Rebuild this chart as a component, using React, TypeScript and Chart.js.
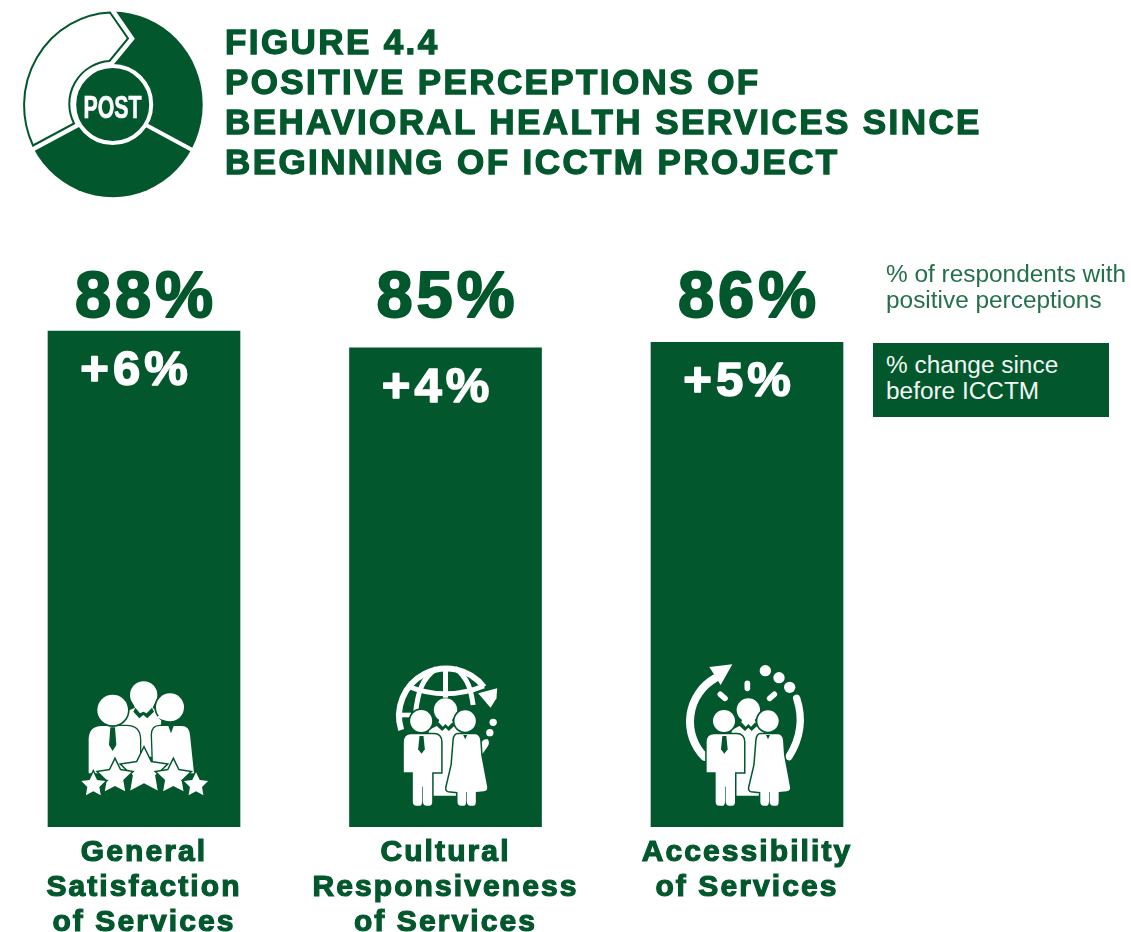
import React, { useEffect, useRef } from "react";
import { Chart, registerables } from "chart.js";

Chart.register(...registerables);

const categories: string[][] = [
  ["General", "Satisfaction", "of Services"],
  ["Cultural", "Responsiveness", "of Services"],
  ["Accessibility", "of Services"],
];
const positiveShare: number[] = [88, 85, 86];
const changeSinceBefore: string[] = ["+6%", "+4%", "+5%"];
const titleLines: string[] = [
  "FIGURE 4.4",
  "POSITIVE PERCEPTIONS OF",
  "BEHAVIORAL HEALTH SERVICES SINCE",
  "BEGINNING OF ICCTM PROJECT",
];
const legendShare: string[] = ["% of respondents with", "positive perceptions"];
const legendChange: string[] = ["% change since", "before ICCTM"];

const GREEN = "#02582C";
const WHITE = "#FFFFFF";
const HEAVY = '"Liberation Sans"';

type C = CanvasRenderingContext2D;

function circle(ctx: C, x: number, y: number, r: number) {
  ctx.beginPath();
  ctx.arc(x, y, r, 0, Math.PI * 2);
  ctx.fillStyle = WHITE;
  ctx.fill();
}
function shape(ctx: C, d: string, outline = 0) {
  const p = new Path2D(d);
  if (outline > 0) {
    ctx.strokeStyle = GREEN;
    ctx.lineWidth = outline;
    ctx.stroke(p);
  }
  ctx.fillStyle = WHITE;
  ctx.fill(p);
}
function dark(ctx: C, d: string) {
  ctx.fillStyle = GREEN;
  ctx.fill(new Path2D(d));
}
function ringed(ctx: C, x: number, y: number, r: number, w = 7) {
  ctx.beginPath();
  ctx.arc(x, y, r + w, 0, Math.PI * 2);
  ctx.fillStyle = GREEN;
  ctx.fill();
  circle(ctx, x, y, r);
}
function star(ctx: C, x: number, y: number, r: number) {
  const pts: string[] = [];
  for (let i = 0; i < 10; i++) {
    const a = -Math.PI / 2 + (i * Math.PI) / 5;
    const q = i % 2 ? r * 0.5 : r;
    pts.push(`${x + q * Math.cos(a)} ${y + q * Math.sin(a)}`);
  }
  ctx.lineJoin = "miter";
  shape(ctx, "M" + pts.join("L") + "Z", 9);
}
function stroke(ctx: C, d: string, w: number, cap: CanvasLineCap = "round") {
  ctx.strokeStyle = WHITE;
  ctx.lineWidth = w;
  ctx.lineCap = cap;
  ctx.stroke(new Path2D(d));
}
function group(ctx: C, dx: number) {
  // back person
  circle(ctx, 195 + dx, 165, 35);
  shape(ctx, `M${178 + dx} 190L${170 + dx} 212L${145 + dx} 225L${145 + dx} 410Q${145 + dx} 422 ${160 + dx} 422L${240 + dx} 422Q${252 + dx} 422 ${252 + dx} 410L${252 + dx} 225L${222 + dx} 212L${212 + dx} 190Z`);
  dark(ctx, `M${174 + dx} 202L${187 + dx} 215L${195 + dx} 207L${203 + dx} 215L${216 + dx} 202L${222 + dx} 212L${205 + dx} 228L${195 + dx} 218L${185 + dx} 228L${168 + dx} 212Z`);
  // man
  const man = `M${92 + dx} 238Q${70 + dx} 238 ${70 + dx} 262L${70 + dx} 352L${97 + dx} 352L${97 + dx} 440Q${97 + dx} 452 ${108 + dx} 452L${118 + dx} 452Q${124 + dx} 452 ${125 + dx} 440L${125 + dx} 395L${127 + dx} 395L${127 + dx} 440Q${128 + dx} 452 ${138 + dx} 452L${146 + dx} 452Q${155 + dx} 452 ${155 + dx} 440L${155 + dx} 352L${182 + dx} 352L${182 + dx} 262Q${182 + dx} 238 ${160 + dx} 238Z`;
  shape(ctx, man, 9);
  ringed(ctx, 122 + dx, 198, 33, 5);
  dark(ctx, `M${117 + dx} 243L${129 + dx} 243L${133 + dx} 283L${123 + dx} 296L${113 + dx} 283Z`);
  // woman
  const woman = `M${232 + dx} 238Q${222 + dx} 238 ${220 + dx} 255L${214 + dx} 330L${198 + dx} 398Q${196 + dx} 409 ${210 + dx} 409L${231 + dx} 411L${231 + dx} 440Q${231 + dx} 452 ${242 + dx} 452L${250 + dx} 452Q${256 + dx} 452 ${257 + dx} 440L${257 + dx} 411L${259 + dx} 411L${259 + dx} 440Q${260 + dx} 452 ${270 + dx} 452L${278 + dx} 452Q${286 + dx} 452 ${286 + dx} 440L${286 + dx} 411L${310 + dx} 409Q${322 + dx} 407 ${320 + dx} 396L${302 + dx} 300L${299 + dx} 255Q${297 + dx} 238 ${282 + dx} 238Z`;
  shape(ctx, woman, 9);
  ringed(ctx, 254 + dx, 198, 32, 5);
  dark(ctx, `M${248 + dx} 240L${260 + dx} 240L${254 + dx} 253Z`);
}

function iconSatisfaction(ctx: C) {
  circle(ctx, 221, 75, 41);
  shape(ctx, "M183 85L195 113L160 128L150 170L205 260L265 260L275 135L248 113L260 85Z");
  dark(ctx, "M196 113L210 130L220 125L230 130L246 113L252 125L232 145L220 135L208 145L190 125Z");
  // right person
  shape(ctx, "M270 168Q246 168 246 195L250 310L372 310L360 195Q358 168 335 168Z", 8);
  ringed(ctx, 300, 112, 42, 5);
  shape(ctx, "M258 142L280 150L302 152L290 125Z");
  dark(ctx, "M295 168L311 168L303 190Z");
  // left person
  shape(ctx, "M95 168Q56 168 56 210L56 310L210 310L210 210Q210 168 170 168Z", 8);
  ringed(ctx, 128, 120, 46, 5);
  dark(ctx, "M121 172L135 172L139 225L128 243L117 225Z");
  star(ctx, 222, 305, 70);
  star(ctx, 135, 322, 52);
  star(ctx, 310, 322, 52);
  star(ctx, 70, 345, 38);
  star(ctx, 378, 345, 38);
}

function iconCulture(ctx: C) {
  stroke(ctx, "M62 225A142 142 0 0 1 310 96", 18, "butt");
  stroke(ctx, "M195 36L195 128", 15, "butt");
  stroke(ctx, "M168 40C125 70 112 110 105 175", 15, "butt");
  stroke(ctx, "M224 40C265 70 272 110 278 150", 15, "butt");
  stroke(ctx, "M80 93Q195 140 310 93", 15, "butt");
  stroke(ctx, "M55 180L92 180", 14, "butt");
  shape(ctx, "M293 115L350 100L348 130L330 158Z");
  circle(ctx, 338, 202, 11);
  circle(ctx, 328, 233, 11);
  shape(ctx, "M322 253Q330 265 320 277L305 298L300 270Q305 250 322 253Z");
  group(ctx, 0);
}

function iconAccess(ctx: C) {
  stroke(ctx, "M88 305A150 150 0 0 1 120 70", 24);
  shape(ctx, "M103 36L172 28L137 90Z");
  stroke(ctx, "M365 130Q395 220 342 305", 22);
  circle(ctx, 271, 47, 17);
  circle(ctx, 312, 68, 17);
  circle(ctx, 344, 97, 17);
  stroke(ctx, "M217 85L217 100", 17);
  stroke(ctx, "M136 118L150 130", 17);
  stroke(ctx, "M284 130L298 118", 17);
  group(ctx, 25);
}

const iconPlugin = {
  id: "icons",
  afterDatasetsDraw(chart: Chart) {
    const ctx = chart.ctx;
    const bars = chart.getDatasetMeta(0).data;
    const base = chart.scales.y.getPixelForValue(0);
    const painters: [(c: C) => void, number, number][] = [
      [iconSatisfaction, -74, -157],
      [iconCulture, -65, -172],
      [iconAccess, -72, -172],
    ];
    painters.forEach(([paint, dx, dy], i) => {
      ctx.save();
      ctx.translate(bars[i].x + dx, base + dy);
      ctx.scale(1 / 3, 1 / 3);
      paint(ctx);
      ctx.restore();
    });
  },
};

const labelPlugin = {
  id: "barLabels",
  beforeDraw(chart: Chart) {
    (chart.ctx as any).letterSpacing = "2.1px";
  },
  afterDatasetsDraw(chart: Chart) {
    const ctx = chart.ctx;
    const bars = chart.getDatasetMeta(0).data;
    const headline = Math.min(...bars.map((b: any) => b.y)) - 14;
    ctx.save();
    ctx.textBaseline = "alphabetic";
    ctx.textAlign = "center";
    ctx.lineJoin = "round";
    bars.forEach((bar: any, i: number) => {
      (ctx as any).letterSpacing = "4px";
      ctx.font = `bold 65px ${HEAVY}`;
      ctx.fillStyle = GREEN;
      ctx.strokeStyle = GREEN;
      ctx.lineWidth = 2;
      ctx.strokeText(`${positiveShare[i]}%`, bar.x + 2, headline);
      ctx.fillText(`${positiveShare[i]}%`, bar.x + 2, headline);
      (ctx as any).letterSpacing = "4px";
      ctx.font = `bold 49px ${HEAVY}`;
      ctx.fillStyle = WHITE;
      ctx.strokeStyle = WHITE;
      ctx.lineWidth = 1.6;
      ctx.strokeText(changeSinceBefore[i], bar.x - 8, bar.y + 54);
      ctx.fillText(changeSinceBefore[i], bar.x - 8, bar.y + 54);
    });
    ctx.restore();
  },
};

function Logo() {
  const seg =
    "M110 12.5L128 38.5L109.5 61A43 43 0 0 0 74 123.5L33 145.5A90 92.8 0 0 1 110 12.5Z";
  return (
    <svg width={220} height={210} style={{ position: "absolute", left: 0, top: 0 }}>
      <ellipse cx={112.7} cy={104.4} rx={90} ry={92.8} fill={GREEN} />
      <path d={seg} fill="none" stroke={WHITE} strokeWidth={11} strokeLinejoin="miter" />
      <path d={seg} fill={WHITE} stroke={GREEN} strokeWidth={2} />
      <line x1={146} y1={125} x2={196} y2={152} stroke={WHITE} strokeWidth={4} />
      <circle cx={112.7} cy={104.5} r={38.5} fill={GREEN} stroke={WHITE} strokeWidth={4} />
      <text
        x={83.5}
        y={117.5}
        fill={WHITE}
        stroke={WHITE}
        strokeWidth={0.7}
        textLength={58}
        lengthAdjust="spacingAndGlyphs"
        style={{ font: 'bold 32px "Liberation Sans"' }}
      >
        POST
      </text>
    </svg>
  );
}

export default function App() {
  const ref = useRef<HTMLCanvasElement>(null);
  useEffect(() => {
    document.body.style.margin = "0";
    const chart = new Chart(ref.current as HTMLCanvasElement, {
      type: "bar",
      data: {
        labels: categories as any,
        datasets: [
          {
            label: "% of respondents with positive perceptions",
            data: positiveShare,
            backgroundColor: GREEN,
            barThickness: 192,
            borderWidth: 0,
          },
        ],
      },
      options: {
        responsive: false,
        animation: false,
        layout: { padding: { left: 0.25, right: 233.25, top: 263.4, bottom: 0 } },
        plugins: { legend: { display: false }, title: { display: false }, tooltip: { enabled: false } },
        scales: {
          y: { display: false, min: 0, max: 100 },
          x: {
            grid: { display: false },
            border: { display: false },
            afterFit: (s: any) => {
              s.height = 105;
            },
            ticks: {
              autoSkip: false,
              maxRotation: 0,
              minRotation: 0,
              padding: 0,
              color: GREEN,
              textStrokeColor: GREEN,
              textStrokeWidth: 1.2,
              font: { family: "Liberation Sans", weight: "bold", size: 30, lineHeight: "35px" as any },
            },
          },
        },
      },
      plugins: [labelPlugin, iconPlugin],
    });
    return () => chart.destroy();
  }, []);

  return (
    <div style={{ position: "absolute", left: 0, top: 0, width: 1131, height: 932, overflow: "hidden", background: "#fff" }}>
      <canvas ref={ref} width={1138} height={932} style={{ position: "absolute", left: -7, top: 0, display: "block" }} />
      <Logo />
      <div
        style={{
          position: "absolute",
          left: 225,
          top: 22,
          font: `bold 35px/40px ${HEAVY}`,
          letterSpacing: "2.4px",
          WebkitTextStroke: `1.3px ${GREEN}`,
          color: GREEN,
          whiteSpace: "nowrap",
        }}
      >
        {titleLines.map((t) => (
          <div key={t}>{t}</div>
        ))}
      </div>
      <div style={{ position: "absolute", left: 886, top: 261, font: '24.4px/26px "Liberation Sans"', color: "#24704A", whiteSpace: "nowrap" }}>
        {legendShare.map((t) => (
          <div key={t}>{t}</div>
        ))}
      </div>
      <div style={{ position: "absolute", left: 873, top: 343, width: 236, height: 74, background: GREEN }}>
        <div style={{ position: "absolute", left: 13, top: 9, font: '24.4px/26px "Liberation Sans"', color: "#F2F7F4", whiteSpace: "nowrap" }}>
          {legendChange.map((t) => (
            <div key={t}>{t}</div>
          ))}
        </div>
      </div>
    </div>
  );
}
